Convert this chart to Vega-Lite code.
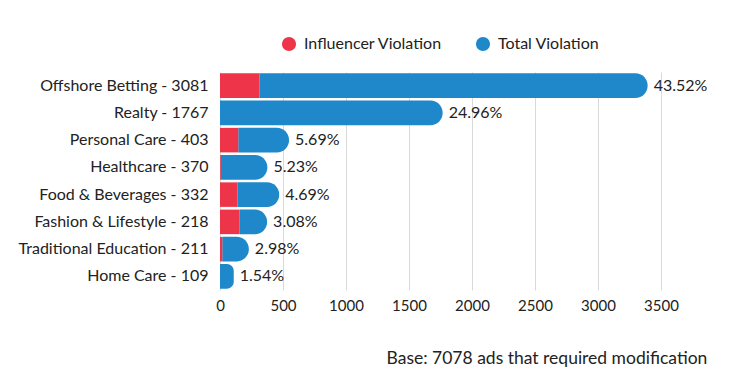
{
  "$schema": "https://vega.github.io/schema/vega-lite/v6.json",
  "width": 441,
  "height": 218,
  "padding": {"left": 18, "top": 36, "right": 10, "bottom": 10},
  "background": "white",
  "config": {
    "font": "Lato",
    "view": {"stroke": null},
    "axis": {"labelFont": "Lato", "labelColor": "#222", "labelFontSize": 15},
    "legend": {"layout": {"top": {"anchor": "middle"}}}
  },
  "title": {
    "text": "Base: 7078 ads that required modification",
    "orient": "bottom",
    "anchor": "end",
    "frame": "bounds",
    "font": "Lato",
    "fontSize": 17.5,
    "fontWeight": "normal",
    "color": "#222",
    "offset": 37
  },
  "data": {
    "values": [
      {"category": "Offshore Betting - 3081", "Influencer Violation": 313, "Total Violation": 3081, "pct": "43.52%"},
      {"category": "Realty - 1767", "Influencer Violation": 0, "Total Violation": 1767, "pct": "24.96%"},
      {"category": "Personal Care - 403", "Influencer Violation": 145, "Total Violation": 403, "pct": "5.69%"},
      {"category": "Healthcare - 370", "Influencer Violation": 6, "Total Violation": 370, "pct": "5.23%"},
      {"category": "Food & Beverages - 332", "Influencer Violation": 138, "Total Violation": 332, "pct": "4.69%"},
      {"category": "Fashion & Lifestyle - 218", "Influencer Violation": 156, "Total Violation": 218, "pct": "3.08%"},
      {"category": "Traditional Education - 211", "Influencer Violation": 18, "Total Violation": 211, "pct": "2.98%"},
      {"category": "Home Care - 109", "Influencer Violation": 0, "Total Violation": 109, "pct": "1.54%"}
    ]
  },
  "transform": [
    {"fold": ["Influencer Violation", "Total Violation"], "as": ["series", "value"]},
    {"stack": "value", "groupby": ["category"], "sort": [{"field": "series", "order": "ascending"}], "as": ["v0", "v1"]}
  ],
  "encoding": {
    "y": {
      "field": "category",
      "type": "nominal",
      "sort": null,
      "scale": {"paddingInner": 0.1, "paddingOuter": 0.05},
      "axis": {"title": null, "ticks": false, "domain": false, "labelPadding": 12, "labelFontSize": 16, "labelLimit": 400}
    }
  },
  "layer": [
    {
      "transform": [{"filter": "datum.series == 'Total Violation'"}],
      "mark": {"type": "bar", "cornerRadiusTopRight": 12.5, "cornerRadiusBottomRight": 12.5},
      "encoding": {
        "x": {
          "field": "v0",
          "type": "quantitative",
          "scale": {"domain": [0, 3500], "nice": false},
          "axis": {"title": null, "ticks": false, "domain": false, "grid": true, "gridColor": "#d9d9d9", "format": "d", "labelFlush": false, "values": [0, 500, 1000, 1500, 2000, 2500, 3000, 3500], "labelPadding": 8, "labelFontSize": 15}
        },
        "x2": {"field": "v1"},
        "color": {
          "field": "series",
          "type": "nominal",
          "scale": {"domain": ["Influencer Violation", "Total Violation"], "range": ["#EE3448", "#1E88CA"]},
          "legend": {"title": null, "orient": "top", "direction": "horizontal", "symbolType": "circle", "symbolSize": 200, "symbolOpacity": 1, "labelFontSize": 16, "labelFont": "Lato", "labelColor": "#222", "labelOffset": 7, "columnPadding": 33, "offset": 20}
        }
      }
    },
    {
      "transform": [{"filter": "datum.series == 'Influencer Violation'"}],
      "mark": {"type": "bar"},
      "encoding": {
        "x": {"field": "v0", "type": "quantitative"},
        "x2": {"field": "v1"},
        "color": {"field": "series", "type": "nominal"}
      }
    },
    {
      "transform": [{"filter": "datum.series == 'Total Violation'"}],
      "mark": {"type": "text", "align": "left", "baseline": "middle", "dx": 6, "fontSize": 16, "font": "Lato", "color": "#222"},
      "encoding": {
        "x": {"field": "v1", "type": "quantitative"},
        "text": {"field": "pct"}
      }
    }
  ]
}
